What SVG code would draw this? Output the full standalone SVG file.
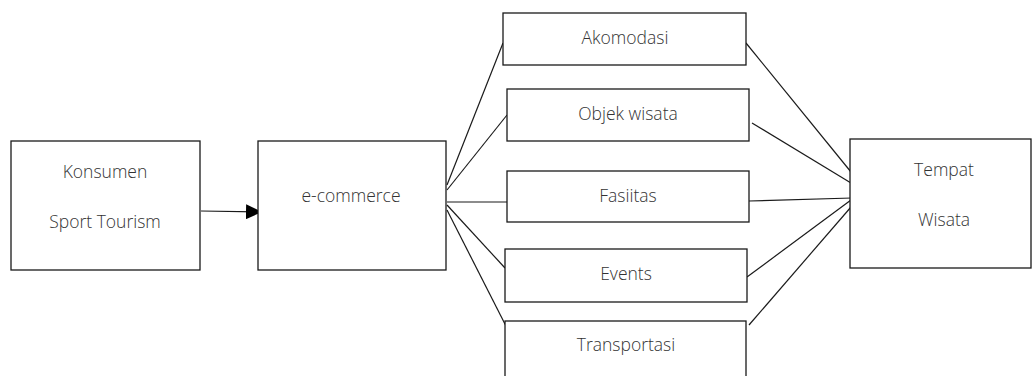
<svg xmlns="http://www.w3.org/2000/svg" width="1033" height="376" viewBox="0 0 1033 376">
<style>
.box{fill:#fff;stroke:#1a1a1a;stroke-width:1.3}
.ln{stroke:#1a1a1a;stroke-width:1.2;fill:none}
text{font-family:"Open Sans","Noto Sans",sans-serif;font-size:17.5px;font-weight:300;fill:#333;text-anchor:middle}
</style>
<defs>
<marker id="ah" markerWidth="16" markerHeight="15" refX="15" refY="7.5" orient="auto" markerUnits="userSpaceOnUse">
<path d="M0,0 L16,7.5 L0,15 Z" fill="#000"/>
</marker>
</defs>
<rect width="1033" height="376" fill="#fff"/>
<g id="connectors">
<line class="ln" x1="201" y1="211" x2="261" y2="212" marker-end="url(#ah)"/>
<line class="ln" x1="447" y1="185" x2="503" y2="43"/>
<line class="ln" x1="447" y1="190" x2="507" y2="115"/>
<line class="ln" x1="447" y1="202" x2="507" y2="202"/>
<line class="ln" x1="447" y1="205" x2="505" y2="268"/>
<line class="ln" x1="447" y1="210" x2="508" y2="330"/>
<line class="ln" x1="746" y1="43" x2="851" y2="172"/>
<line class="ln" x1="752" y1="123" x2="851" y2="183"/>
<line class="ln" x1="749" y1="201" x2="852" y2="198"/>
<line class="ln" x1="747" y1="277" x2="851" y2="200"/>
<line class="ln" x1="749" y1="325" x2="851" y2="207"/>
</g>
<g id="konsumen">
<rect class="box" x="11" y="141" width="189" height="129"/>
<text x="105" y="178">Konsumen</text>
<text x="105" y="228">Sport Tourism</text>
</g>
<g id="ecommerce">
<rect class="box" x="258" y="141" width="188" height="129"/>
<text x="351" y="202">e-commerce</text>
</g>
<g id="akomodasi">
<rect class="box" x="503" y="13" width="243" height="52"/>
<text x="625" y="44">Akomodasi</text>
</g>
<g id="objek">
<rect class="box" x="507" y="89" width="242" height="52"/>
<text x="628" y="120">Objek wisata</text>
</g>
<g id="fasiitas">
<rect class="box" x="507" y="171" width="242" height="51"/>
<text x="628" y="202">Fasiitas</text>
</g>
<g id="events">
<rect class="box" x="505" y="249" width="242" height="53"/>
<text x="626" y="280">Events</text>
</g>
<g id="transportasi">
<rect class="box" x="505" y="321" width="241" height="70"/>
<text x="626" y="351">Transportasi</text>
</g>
<g id="tempat">
<rect class="box" x="850" y="139" width="181" height="129"/>
<text x="944" y="176">Tempat</text>
<text x="944" y="226">Wisata</text>
</g>
</svg>
